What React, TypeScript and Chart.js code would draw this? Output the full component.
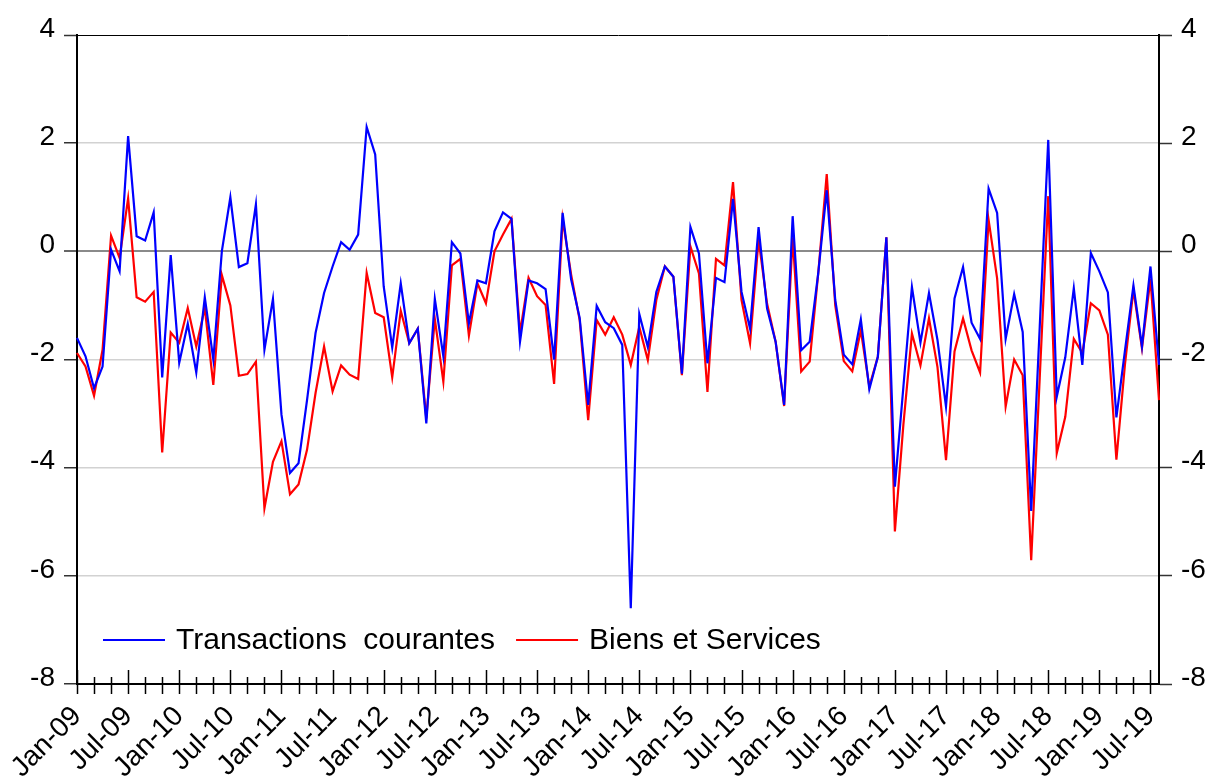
import { useEffect, useRef } from "react";
import { Chart, registerables } from "chart.js";

Chart.register(...registerables);

const MONTHS = ["Jan", "Feb", "Mar", "Apr", "May", "Jun", "Jul", "Aug", "Sep", "Oct", "Nov", "Dec"];
const YEARS = ["09", "10", "11", "12", "13", "14", "15", "16", "17", "18", "19"];
const N_OBS = 128; // Jan-09 .. Aug-19

const categories: string[] = [];
for (const y of YEARS) for (const m of MONTHS) categories.push(`${m}-${y}`);
categories.length = N_OBS;

const yTicks = [-8, -6, -4, -2, 0, 2, 4];

const transactionsCourantes = [
  -1.6, -1.94, -2.53, -2.13, 0.03, -0.37, 2.13, 0.28, 0.2, 0.72, -2.33, -0.07,
  -2.06, -1.34, -2.24, -0.85, -2.0, 0.0, 1.0, -0.29, -0.22, 0.87, -1.82, -0.88,
  -3.02, -4.1, -3.92, -2.75, -1.51, -0.77, -0.28, 0.17, 0.03, 0.31, 2.3, 1.79,
  -0.65, -1.78, -0.59, -1.7, -1.43, -3.18, -0.88, -1.94, 0.17, -0.04, -1.33, -0.54,
  -0.59, 0.37, 0.72, 0.6, -1.67, -0.54, -0.59, -0.7, -2.0, 0.71, -0.52, -1.23,
  -2.84, -1.01, -1.31, -1.42, -1.73, -6.6, -1.16, -1.77, -0.75, -0.28, -0.47, -2.26,
  0.45, -0.04, -2.07, -0.49, -0.57, 0.97, -0.75, -1.43, 0.45, -1.06, -1.67, -2.84,
  0.65, -1.83, -1.67, -0.41, 1.13, -0.9, -1.91, -2.09, -1.26, -2.55, -1.95, 0.26,
  -4.35, -2.5, -0.66, -1.69, -0.77, -1.64, -2.87, -0.87, -0.29, -1.32, -1.62, 1.16,
  0.71, -1.62, -0.79, -1.49, -4.8, -1.4, 2.06, -2.69, -1.96, -0.68, -2.1, -0.03,
  -0.37, -0.76, -3.07, -1.84, -0.63, -1.76, -0.28, -2.1,
];

const biensEtServices = [
  -1.88, -2.13, -2.67, -1.82, 0.29, -0.12, 0.98, -0.85, -0.93, -0.75, -3.72, -1.5,
  -1.69, -1.05, -1.76, -1.05, -2.47, -0.44, -1.0, -2.3, -2.27, -2.04, -4.75, -3.89,
  -3.51, -4.49, -4.31, -3.67, -2.62, -1.76, -2.59, -2.11, -2.28, -2.36, -0.4, -1.14,
  -1.22, -2.33, -1.1, -1.7, -1.43, -3.09, -1.25, -2.41, -0.26, -0.14, -1.56, -0.59,
  -0.96, 0.0, 0.31, 0.6, -1.51, -0.49, -0.83, -0.99, -2.45, 0.6, -0.43, -1.27,
  -3.12, -1.27, -1.54, -1.22, -1.54, -2.1, -1.4, -2.01, -0.9, -0.28, -0.47, -2.29,
  0.09, -0.41, -2.6, -0.14, -0.26, 1.28, -0.9, -1.7, 0.22, -0.97, -1.67, -2.86,
  0.26, -2.22, -2.04, -0.41, 1.43, -1.0, -2.03, -2.22, -1.46, -2.5, -1.95, 0.26,
  -5.18, -3.2, -1.52, -2.11, -1.24, -2.14, -3.86, -1.85, -1.24, -1.83, -2.24, 0.58,
  -0.5, -2.87, -2.0, -2.29, -5.71, -2.34, 1.02, -3.73, -3.06, -1.62, -1.88, -0.96,
  -1.09, -1.54, -3.85, -2.1, -0.71, -1.79, -0.51, -2.75,
];

const FONT = "'Liberation Sans', Arial, Helvetica, sans-serif";

const xTickPlugin = {
  id: "xCrossTicks",
  afterDraw(chart: any) {
    const xs = chart.scales.x;
    const { bottom } = chart.chartArea;
    const ctx = chart.ctx;
    ctx.save();
    ctx.strokeStyle = "#000";
    ctx.lineWidth = 1.5;
    for (let i = 0; i < categories.length; i += 2) {
      const px = Math.round(xs.getPixelForValue(i)) + 0.5;
      const major = i % 6 === 0;
      ctx.beginPath();
      ctx.moveTo(px, bottom - (major ? 14 : 7));
      ctx.lineTo(px, bottom + 10);
      ctx.stroke();
    }
    ctx.restore();
  },
};

const legendPlugin = {
  id: "insideLegend",
  afterDraw(chart: any) {
    const ctx = chart.ctx;
    const { left, bottom } = chart.chartArea;
    ctx.save();
    ctx.font = `30px ${FONT}`;
    ctx.textBaseline = "middle";
    ctx.textAlign = "left";
    let x = left + 26;
    const y = bottom - 44;
    chart.data.datasets.forEach((ds: any) => {
      ctx.strokeStyle = ds.borderColor;
      ctx.lineWidth = 2.2;
      ctx.beginPath();
      ctx.moveTo(x, y);
      ctx.lineTo(x + 62, y);
      ctx.stroke();
      x += 73;
      ctx.fillStyle = "#000";
      ctx.fillText(ds.label, x, y + 1);
      x += ctx.measureText(ds.label).width + 21;
    });
    ctx.restore();
  },
};

export default function App() {
  const canvasRef = useRef<HTMLCanvasElement | null>(null);

  useEffect(() => {
    if (!canvasRef.current) return;
    const gridColor = (c: any) => {
      const v = c.tick?.value;
      if (v === 0) return "#8a8a8a";
      if (v === 4) return "#000000";
      return "#d2d2d2";
    };
    const gridWidth = (c: any) => {
      const v = c.tick?.value;
      if (v === 0) return 2;
      if (v === 4) return 1;
      return 1.5;
    };
    const yTickOpts = {
      font: { family: FONT, size: 28 },
      color: "#000",
      padding: 9,
      labelOffset: -6,
      stepSize: 2,
      callback: (v: any) => (yTicks.includes(Number(v)) ? String(v) : ""),
    };
    const chart = new Chart(canvasRef.current, {
      type: "line",
      data: {
        labels: categories,
        datasets: [
          {
            label: "Transactions  courantes",
            data: transactionsCourantes,
            borderColor: "#0000ff",
            backgroundColor: "#0000ff",
            borderWidth: 2.2,
            pointRadius: 0,
            tension: 0,
            yAxisID: "y",
          },
          {
            label: "Biens et Services",
            data: biensEtServices,
            borderColor: "#ff0000",
            backgroundColor: "#ff0000",
            borderWidth: 2.2,
            pointRadius: 0,
            tension: 0,
            yAxisID: "y",
          },
        ],
      },
      options: {
        animation: false,
        responsive: false,
        maintainAspectRatio: false,
        layout: { padding: { top: 35, left: 0, right: 0, bottom: 0 } },
        plugins: {
          legend: { display: false },
          tooltip: { enabled: false },
        },
        scales: {
          x: {
            type: "category",
            offset: false,
            grid: { display: true, drawOnChartArea: false, drawTicks: false },
            border: { display: true, color: "#000", width: 2 },
            ticks: {
              autoSkip: false,
              minRotation: 45,
              maxRotation: 45,
              padding: 16,
              font: { family: FONT, size: 28 },
              color: "#000",
              callback: (_v: any, i: number) => (i % 6 === 0 ? categories[i] : ""),
            },
            afterFit: (s: any) => {
              s.height = 92;
              s.paddingLeft = 0;
              s.paddingRight = 0;
            },
          },
          y: {
            position: "left",
            min: -8,
            max: 4,
            grid: {
              color: gridColor,
              lineWidth: gridWidth,
              drawTicks: true,
              tickLength: 13,
              tickColor: "#333",
              tickWidth: 1.5,
            },
            border: { display: true, color: "#000", width: 2 },
            ticks: yTickOpts,
            afterFit: (s: any) => {
              s.width = 77;
            },
          },
          y2: {
            position: "right",
            min: -8,
            max: 4,
            grid: {
              drawOnChartArea: false,
              drawTicks: true,
              tickLength: 13,
              tickColor: "#333",
              tickWidth: 1.5,
            },
            border: { display: true, color: "#000", width: 2 },
            ticks: yTickOpts,
            afterFit: (s: any) => {
              s.width = 51;
            },
          },
        },
      },
      plugins: [xTickPlugin, legendPlugin],
    });
    return () => chart.destroy();
  }, []);

  return (
    <div style={{ position: "fixed", left: 0, top: 0, width: 1210, height: 776, background: "#fff" }}>
      <canvas ref={canvasRef} width={1210} height={776} style={{ width: 1210, height: 776, display: "block" }} />
    </div>
  );
}
